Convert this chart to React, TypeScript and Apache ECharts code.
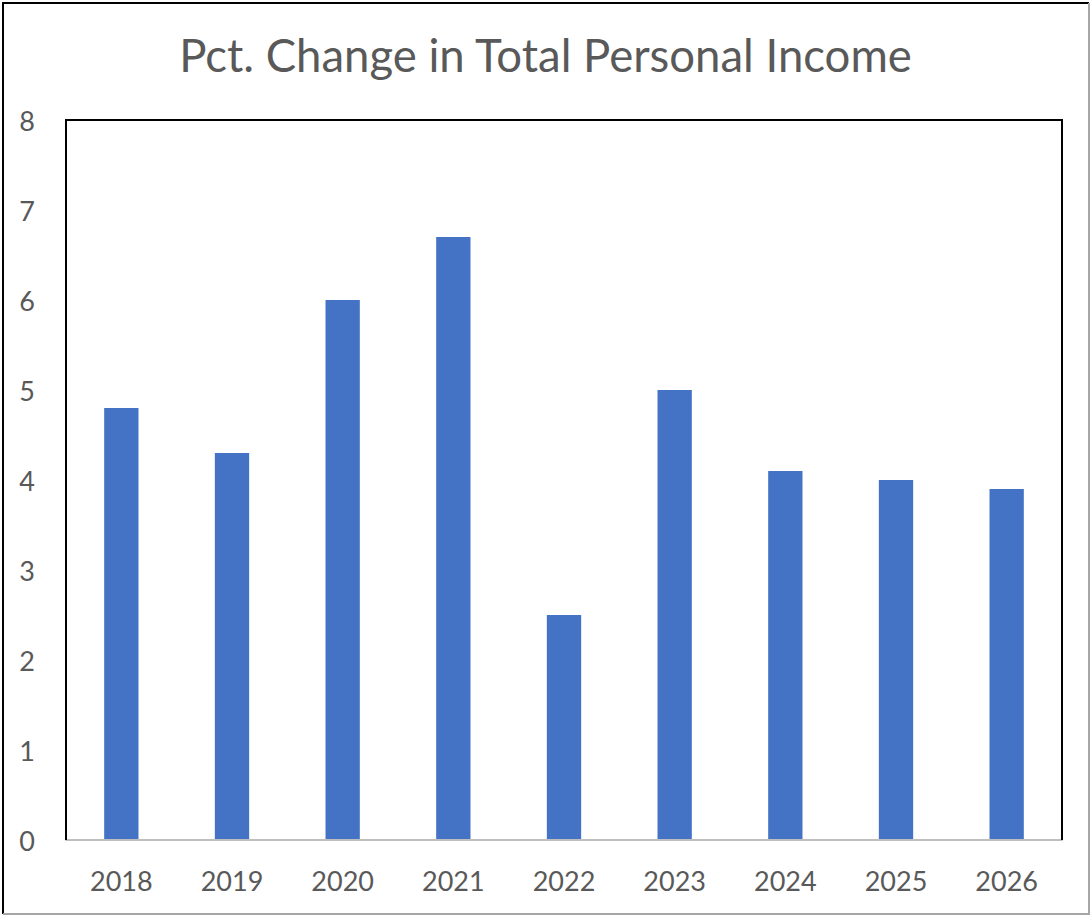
import React, { useEffect, useRef } from "react";
import * as echarts from "echarts";

const years = ["2018", "2019", "2020", "2021", "2022", "2023", "2024", "2025", "2026"];
const pctChange = [4.8, 4.3, 6.0, 6.7, 2.5, 5.0, 4.1, 4.0, 3.9];
const yTicks = { min: 0, max: 8, interval: 1 };
const titleText = "Pct. Change in Total Personal Income";

const W = 1091;
const H = 916;
const G = { left: 66, right: 29, top: 120, bottom: 76 };

export default function App() {
  const ref = useRef<HTMLDivElement>(null);
  useEffect(() => {
    document.body.style.margin = "0";
    const chart = echarts.init(ref.current!, null, { renderer: "svg" });
    const font = "Lato, 'Open Sans', sans-serif";
    chart.setOption({
      animation: false,
      backgroundColor: "#ffffff",
      title: {
        text: titleText,
        left: "center",
        top: 26,
        textStyle: { fontFamily: font, fontSize: 45.5, fontWeight: "normal", color: "#595959" },
      },
      grid: { left: G.left, right: G.right, top: G.top, bottom: G.bottom, containLabel: false },
      xAxis: {
        type: "category",
        data: years,
        axisLine: { show: true, lineStyle: { color: "#bfbfbf", width: 2 } },
        axisTick: { show: false },
        axisLabel: { fontFamily: font, fontSize: 27, color: "#595959", margin: 27 },
        z: 5,
      },
      yAxis: {
        type: "value",
        min: yTicks.min,
        max: yTicks.max,
        interval: yTicks.interval,
        splitLine: { show: false },
        axisLine: { show: false },
        axisTick: { show: false },
        axisLabel: { fontFamily: font, fontSize: 27, color: "#595959", margin: 31, align: "right" },
      },
      series: [
        {
          type: "bar",
          data: pctChange,
          barWidth: "31%",
          itemStyle: { color: "#4472c4" },
        },
      ],
      graphic: [
        {
          type: "polyline",
          shape: {
            points: [
              [G.left, H - G.bottom],
              [G.left, G.top],
              [W - G.right, G.top],
              [W - G.right, H - G.bottom],
            ],
          },
          style: { stroke: "#000000", lineWidth: 2, fill: null },
          z: 10,
        },
        {
          type: "polyline",
          shape: { points: [[3, H - 2], [3, 3], [W - 2, 3]] },
          style: { stroke: "#000000", lineWidth: 2, fill: null },
          z: 10,
        },
        {
          type: "polyline",
          shape: { points: [[3, H - 2], [W - 2, H - 2], [W - 2, 3]] },
          style: { stroke: "#a6a6a6", lineWidth: 2, fill: null },
          z: 10,
        },
      ],
    });
    return () => chart.dispose();
  }, []);
  return <div ref={ref} style={{ width: W, height: H }} />;
}
